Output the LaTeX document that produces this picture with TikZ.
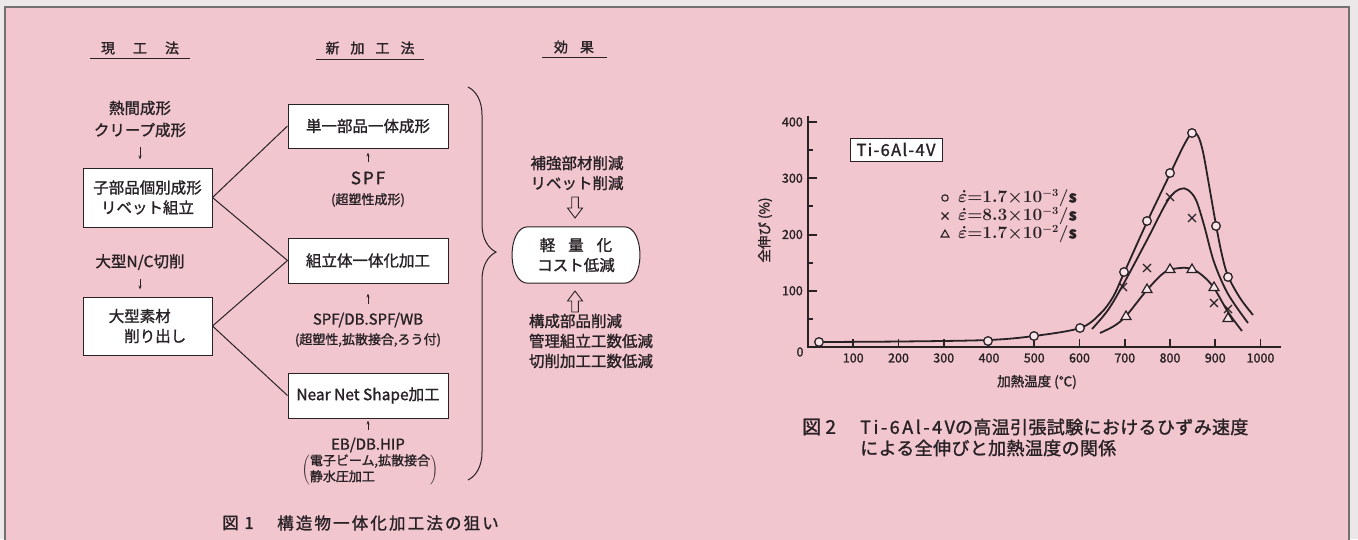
\documentclass[tikz,border=0pt]{standalone}
\usepackage{fontspec}
\setmainfont{Noto Sans CJK JP}[FakeBold=1.4]
\usetikzlibrary{arrows.meta,decorations.pathreplacing,calc}
\definecolor{bgpink}{RGB}{242,198,207}
\definecolor{outer}{RGB}{236,232,234}
\definecolor{framegray}{RGB}{115,112,114}
\definecolor{ink}{RGB}{40,34,38}
\tikzset{harrow/.pic={\draw[ink,line width=0.9pt,line join=miter] (-3.3,-10.5) -- (-3.3,0.5) -- (-7.5,0.5) -- (0,10.5) -- (7.5,0.5) -- (3.3,0.5) -- (3.3,-10.5) -- cycle;}}
\begin{document}
\begin{tikzpicture}[x=1pt,y=-1pt,
  every node/.style={inner sep=0pt,text=ink},
  txt/.style={font=\fontsize{15.5}{20}\selectfont,align=center},
  boxed/.style={txt,draw=ink,fill=white,line width=1pt},
  smalltxt/.style={font=\fontsize{13}{16}\selectfont,align=center},
  conn/.style={draw=ink,line width=1pt},
  sarrow/.style={draw=ink,line width=0.7pt,-{Stealth[length=4pt,width=3pt]}},
  ttl/.style={font=\fontsize{14}{16}\selectfont},
  ticklbl/.style={font=\fontsize{12.5}{14}\selectfont},
  axisline/.style={draw=ink,line width=2.4pt},
  curveline/.style={draw=ink,line width=1.8pt},
  legtxt/.style={font=\fontsize{16}{18}\selectfont\boldmath},
  captwo/.style={font=\fontsize{18}{21}\selectfont\addfontfeature{LetterSpace=2}},
  capone/.style={font=\fontsize{16.5}{20}\selectfont\addfontfeature{LetterSpace=13}}
]
\useasboundingbox (0,0) rectangle (1358,539);
\fill[outer] (0,0) rectangle (1358,539);
\fill[bgpink] (5,7) rectangle (1349,560);
\draw[framegray,line width=1.4pt] (5,560) -- (5,7) -- (1349,7) -- (1349,560);

% ---------- Figure 1 ----------
\node[ttl] (t1) at (140,48) {現\hspace{18pt}工\hspace{18pt}法};
\node[ttl] (t2) at (370,48) {新\hspace{11pt}加\hspace{11pt}工\hspace{11pt}法};
\node[ttl] (t3) at (574,47) {効\hspace{12pt}果};
\draw[conn] (90,58.5) -- (190,58.5);
\draw[conn] (316,59) -- (424,59);
\draw[conn] (542,57) -- (607,57);

\node[txt] (a1) at (140,108) {熱間成形};
\node[txt] (a2) at (140,130) {クリープ成形};
\node[boxed,minimum width=129pt,minimum height=59pt] (b1) at (147.5,197.5) {子部品個別成形\\リベット組立};
\draw[sarrow,shorten <=10pt,shorten >=8pt] (a2.south) -- (a2.south |- b1.north);

\node[txt] (a3) at (140,262) {大型N/C切削};
\node[boxed,minimum width=129pt,minimum height=58pt,align=left] (b2) at (147.5,326) {大型素材\\\hspace{1em}削り出し};
\draw[sarrow,shorten <=9pt,shorten >=7pt] (a3.south) -- (a3.south |- b2.north);

\node[boxed,minimum width=160pt,minimum height=44pt] (m1) at (368,126) {単一部品一体成形};
\node[font=\fontsize{17}{20}\selectfont] (s1) at (368,178) {S\hspace{2pt}P\hspace{2pt}F};
\node[smalltxt] (s1b) at (368,200) {(超塑性成形)};
\draw[sarrow,shorten <=9pt,shorten >=4pt] (s1.north) -- (m1.south);

\node[boxed,minimum width=160pt,minimum height=45pt] (m2) at (368,260.5) {組立体一体化加工};
\node[font=\fontsize{15}{18}\selectfont] (s2) at (368,320) {SPF/DB.SPF/WB};
\node[smalltxt] (s2b) at (368,340) {(超塑性,拡散接合,ろう付)};
\draw[sarrow,shorten <=9pt,shorten >=10pt] (s2.north) -- (m2.south);

\node[boxed,minimum width=160pt,minimum height=45pt] (m3) at (368,395.5) {Near Net Shape加工};
\node[font=\fontsize{15}{18}\selectfont] (s3) at (368,445) {EB/DB.HIP};
\node[smalltxt] (s3b) at (370,470) {$\left(\vcenter{\hbox{\begin{tabular}{@{}l@{}}電子ビーム,拡散接合\\静水圧加工\end{tabular}}}\right)$};
\draw[sarrow,shorten <=8pt,shorten >=2pt] (s3.north) -- (m3.south);

\draw[conn] (b1.east) -- (m1.west);
\draw[conn] (b1.east) -- (m2.west);
\draw[conn] (b2.east) -- (m2.west);
\draw[conn] (b2.east) -- (m3.west);

\draw[conn,decorate,decoration={brace,amplitude=28pt,aspect=0.42}] (468,87) -- (468,480);

\node[txt] (c1) at (577,173) {補強部材削減\\リベット削減};
\pic at (575,207.5) {harrow};
\node[txt,minimum width=96pt,minimum height=56pt] (eff) at (576,255) {};
\draw[conn,fill=white] (eff.north west) -- (eff.north east) .. controls +(21,0) and +(21,0) .. (eff.south east) -- (eff.south west) .. controls +(-21,0) and +(-21,0) .. (eff.north west) -- cycle;
\node[txt] (efftxt) at (eff.center) {軽\hspace{13pt}量\hspace{13pt}化\\コスト低減};
\pic[rotate=180] at (575,301.5) {harrow};
\node[txt,align=left] (c2) at (591,341) {構成部品削減\\管理組立工数低減\\切削加工工数低減};

\node[capone,anchor=west] (f1n) at (222,523) {図 1};
\node[capone,anchor=west] (f1) at (277,523) {構造物一体化加工法の狙い};

% ---------- Figure 2 ----------
\draw[axisline,line join=miter] (808,116) -- (808,347) -- (1281,347);
\foreach \v in {100,200,300,400} \draw[axisline,line width=2pt] (808,{347-0.5625*\v}) -- ++(9,0);
\foreach \v in {50,150,250,350} \draw[axisline,line width=2pt] (808,{347-0.5625*\v}) -- ++(5,0);
\foreach \v in {100,200,300,400} \node[ticklbl,anchor=east] (yl\v) at (803,{347-0.5625*\v}) {\v};
\node[ticklbl] (yl0) at (800,352) {0};
\foreach \v in {100,200,...,1000} \draw[axisline,line width=1.6pt] ({808+0.4525*\v},347) -- ++(0,-8);
\foreach \v in {100,200,...,1000} \node[ticklbl] (xl\v) at ({808+0.4525*\v},358) {\v};
\node[font=\fontsize{13.5}{15}\selectfont,rotate=90] (ylab) at (765,230) {全伸び (\%)};
\node[font=\fontsize{13.5}{15}\selectfont] (xlab) at (1037,382) {加熱温度 (℃)};

\node[draw=ink,fill=white,line width=0.9pt,minimum width=92pt,minimum height=23pt,font=\fontsize{16.5}{18}\selectfont\addfontfeature{LetterSpace=8}] (ti) at (896,149.5) {Ti-6Al-4V};

\draw[ink,line width=1.1pt] (945,198) circle (3.2pt);
\draw[ink,line width=1.1pt] (941.5,212.5) -- (948.5,219.5) (941.5,219.5) -- (948.5,212.5);
\draw[ink,line width=1.1pt] (945,230) -- (949,237) -- (941,237) -- cycle;
\node[legtxt,anchor=west] (l1) at (958,198) {$\dot{\varepsilon}{=}1.7{\times}10^{-3}/\mathrm{s}$};
\node[legtxt,anchor=west] (l2) at (958,216) {$\dot{\varepsilon}{=}8.3{\times}10^{-3}/\mathrm{s}$};
\node[legtxt,anchor=west] (l3) at (958,234) {$\dot{\varepsilon}{=}1.7{\times}10^{-2}/\mathrm{s}$};

\draw[curveline] plot[smooth,tension=0.55] coordinates {(819,342) (900,341.5) (988,340) (1034,336) (1080,328) (1100,314) (1113,297) (1124,273) (1147,222) (1170,174) (1184,145) (1192,133) (1198,136) (1203,152) (1209,185) (1216,225) (1222,255) (1228,276) (1240,298) (1253,315)};
\draw[curveline] plot[smooth,tension=0.55] coordinates {(1092,329) (1108,310) (1124,283) (1147,240) (1168,200) (1180,189) (1188,190) (1196,200) (1204,225) (1214,262) (1228,294) (1248,323)};
\draw[curveline] plot[smooth,tension=0.55] coordinates {(1100,333) (1114,326) (1126,316) (1147,290) (1165,272) (1180,268) (1192,269) (1203,276) (1214,288) (1228,312) (1242,331)};

\foreach \p in {(819,342),(988,341),(1034,336),(1080,328),(1124,272),(1147,221),(1170,173),(1192,133),(1216,226),(1228,277)}
  \draw[ink,line width=1.3pt,fill=bgpink!45!white] \p circle (4.3pt);
\foreach \x/\y in {1123/287,1147/268,1170/197,1192/218,1214/303,1228/309}
  \draw[ink,line width=1.3pt] (\x-4,\y-4) -- (\x+4,\y+4) (\x-4,\y+4) -- (\x+4,\y-4);
\foreach \x/\y in {1126/316,1147/289,1170/269,1192/269,1214/287,1228/318}
  \draw[ink,line width=1.2pt,fill=bgpink!45!white] (\x,\y-5) -- (\x+5,\y+3.5) -- (\x-5,\y+3.5) -- cycle;

\node[font=\fontsize{19}{21}\selectfont,anchor=west] (f2n) at (802,427) {図 2};
\node[captwo,anchor=west,align=left] (f2) at (860,437.5) {{\addfontfeature{LetterSpace=14}Ti-6Al-4V}の高温引張試験におけるひずみ速度\\による全伸びと加熱温度の関係};
\end{tikzpicture}
\end{document}
